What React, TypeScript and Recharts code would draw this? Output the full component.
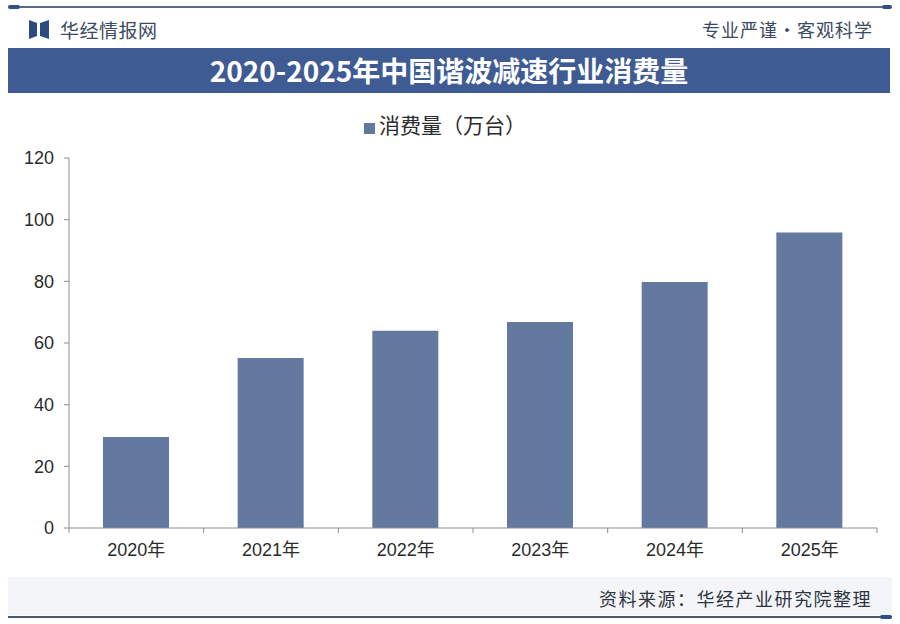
import React from "react";
import { BarChart, Bar, XAxis, YAxis, Legend } from "recharts";

/* 2020-2025 harmonic reducer consumption (10k units) */

const years = ["2020年", "2021年", "2022年", "2023年", "2024年", "2025年"];
const consumption = [29.5, 55.1, 64, 66.8, 79.8, 95.8];
const yTicks = [0, 20, 40, 60, 80, 100, 120];

const SERIES_NAME = "消费量（万台）";
const BAR_COLOR = "#64799f";
const AXIS_COLOR = "#8a8f98";
const TEXT_COLOR = "#2b2b2b";
const FONT = '"Liberation Sans", "Noto Sans CJK SC", sans-serif';
const CJK = '"Noto Sans CJK SC", sans-serif';

const W = 900;
const H = 624;
const PLOT_LEFT = 69;
const PLOT_RIGHT = 23;
const PLOT_TOP = 158;
const PLOT_BOTTOM = 96;
const PLOT_W = W - PLOT_LEFT - PLOT_RIGHT;

const data = years.map((year, i) => ({ year, value: consumption[i] }));

// category labels with tick marks sitting between the bars
function CategoryTick(props: any) {
  const { x, y, payload, index } = props;
  const half = PLOT_W / years.length / 2;
  return (
    <g>
      <line x1={x + half} x2={x + half} y1={y} y2={y + 5} stroke={AXIS_COLOR} />
      {index === 0 && (
        <line x1={x - half} x2={x - half} y1={y} y2={y + 5} stroke={AXIS_COLOR} />
      )}
      <text
        x={x}
        y={y + 28}
        textAnchor="middle"
        fontSize={18}
        fill={TEXT_COLOR}
        fontFamily={FONT}
      >
        {payload.value}
      </text>
    </g>
  );
}

export default function App() {
  return (
    <div
      style={{
        position: "absolute",
        left: 0,
        top: 0,
        width: W,
        height: H,
        background: "#ffffff",
        overflow: "hidden",
        fontFamily: CJK,
      }}
    >
      {/* top rule */}
      <div style={{ position: "absolute", left: 10, top: 6, width: 880, height: 2, background: "#5b6b86" }} />
      <div style={{ position: "absolute", left: 8, top: 5, width: 12, height: 4, borderRadius: 2, background: "#2f4f86" }} />
      <div style={{ position: "absolute", left: 882, top: 5, width: 10, height: 4, borderRadius: 2, background: "#2f4f86" }} />

      {/* header */}
      <svg style={{ position: "absolute", left: 29, top: 20 }} width={20} height={19}>
        <polygon points="0,0 8,3 8,16 0,19" fill="#2c4a80" />
        <polygon points="20,0 11,3 11,16 20,19" fill="#2c4a80" />
      </svg>
      <div style={{ position: "absolute", left: 60, top: 16, fontSize: 19, color: "#3b4a63", letterSpacing: 0.5 }}>
        华经情报网
      </div>
      <div style={{ position: "absolute", right: 27, top: 16, fontSize: 18, color: "#3b4a63", letterSpacing: 1 }}>
        专业严谨•客观科学
      </div>

      {/* title banner */}
      <div
        style={{
          position: "absolute",
          left: 8,
          top: 48,
          width: 882,
          height: 45,
          background: "#3e5b93",
          color: "#ffffff",
          fontSize: 28,
          fontWeight: 700,
          lineHeight: "45px",
          textAlign: "center",
        }}
      >
        2020-2025年中国谐波减速行业消费量
      </div>

      {/* footer band */}
      <div style={{ position: "absolute", left: 8, top: 577, width: 884, height: 38, background: "#f3f5f9" }} />
      <div style={{ position: "absolute", right: 28, top: 585, fontSize: 18, color: "#2f3540", letterSpacing: 1.5 }}>
        资料来源：华经产业研究院整理
      </div>
      <div style={{ position: "absolute", left: 8, top: 616, width: 884, height: 2, background: "#4b5870" }} />
      <div style={{ position: "absolute", left: 880, top: 615, width: 12, height: 4, borderRadius: 2, background: "#2f4f86" }} />

      <div style={{ position: "absolute", left: 0, top: 0 }}>
        <BarChart
          width={W}
          height={H}
          data={data}
          margin={{ top: PLOT_TOP, right: PLOT_RIGHT, bottom: PLOT_BOTTOM - 30, left: PLOT_LEFT - 50 }}
        >
          <XAxis
            dataKey="year"
            height={30}
            axisLine={{ stroke: AXIS_COLOR }}
            tickLine={false}
            tickSize={0}
            tickMargin={0}
            tick={<CategoryTick />}
            interval={0}
          />
          <YAxis
            width={50}
            domain={[0, 120]}
            ticks={yTicks}
            interval={0}
            axisLine={{ stroke: AXIS_COLOR }}
            tickLine={{ stroke: AXIS_COLOR }}
            tickSize={5}
            tickMargin={10}
            tick={{ fontSize: 18, fill: TEXT_COLOR, fontFamily: FONT }}
          />
          <Legend
            layout="horizontal"
            verticalAlign="middle"
            align="center"
            iconType="square"
            iconSize={11}
            wrapperStyle={{ top: 109, left: 0, width: W, fontFamily: CJK }}
            formatter={(v: string) => (
              <span style={{ color: TEXT_COLOR, fontSize: 21 }}>{v}</span>
            )}
          />
          <Bar
            dataKey="value"
            name={SERIES_NAME}
            fill={BAR_COLOR}
            barSize={66}
            isAnimationActive={false}
          />
        </BarChart>
      </div>
    </div>
  );
}
